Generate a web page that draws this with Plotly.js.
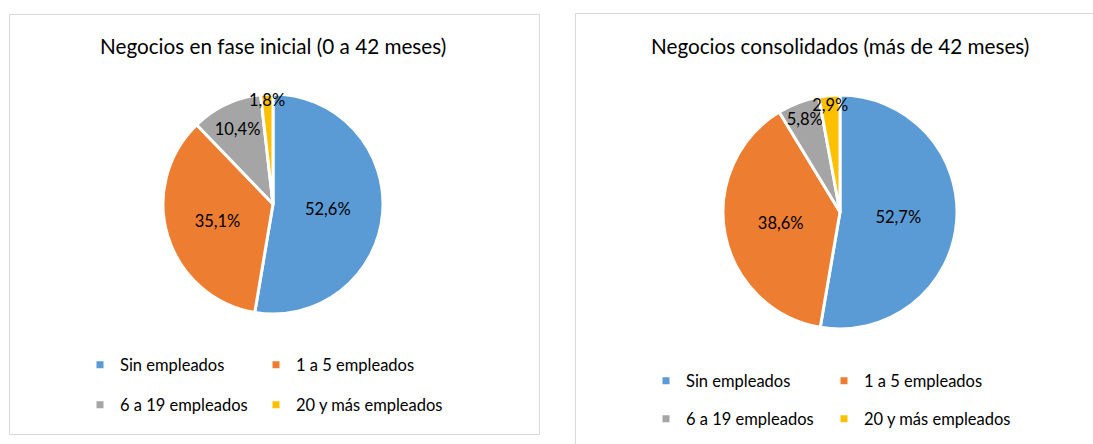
<!DOCTYPE html>
<html><head><meta charset="utf-8">
<script src="https://cdn.plot.ly/plotly-3.0.1.min.js"></script>
<style>html,body{margin:0;padding:0;background:#fff;}#chart{width:1093px;height:444px;}</style>
</head><body><div id="chart"></div>
<script>
// ---- data ----
const categories = ["Sin empleados", "1 a 5 empleados", "6 a 19 empleados", "20 y más empleados"];
const inicialValues = [52.6, 35.1, 10.4, 1.8];
const consolidadosValues = [52.7, 38.6, 5.8, 2.9];
const titles = ["Negocios en fase inicial (0 a 42 meses)", "Negocios consolidados (más de 42 meses)"];
const colors = ["#5B9BD5", "#ED7D31", "#A5A5A5", "#FFC000"];

// ---- layout helpers (pixels -> paper) ----
const W = 1093, H = 444;
const px = v => v / W;
const py = v => 1 - v / H;
const FONT = "Lato, 'Open Sans', sans-serif";

function pieTrace(values, x0, x1, y0, y1) {
  return {
    type: "pie", labels: categories, values: values, sort: false,
    direction: "clockwise", rotation: 0,
    marker: {colors: colors, line: {color: "#ffffff", width: 3}},
    texttemplate: "%{value:.1f}%", textposition: "inside",
    insidetextorientation: "horizontal",
    textfont: {family: FONT, size: 16.5, color: "#000000"},
    domain: {x: [px(x0), px(x1)], y: [py(y1), py(y0)]},
    showlegend: false, hoverinfo: "none"
  };
}

const traces = [
  pieTrace(inicialValues, 163, 383, 94, 314),
  pieTrace(consolidadosValues, 723, 957, 95, 329)
];

// legend placement per panel: text start x of the two columns, y of the two rows
const legendPos = [
  {cols: [80, 256], rows: [365, 405]},
  {cols: [646, 824], rows: [381, 419]}
];
const layoutLegends = {};
let legendCount = 0;
[0, 1].forEach(panel => {
  categories.forEach((c, i) => {
    legendCount += 1;
    const id = legendCount === 1 ? "legend" : "legend" + legendCount;
    const pos = legendPos[panel];
    layoutLegends[id] = {
      orientation: "h", x: px(pos.cols[i % 2]), y: py(pos.rows[Math.floor(i / 2)]),
      xanchor: "left", yanchor: "middle",
      bgcolor: "rgba(0,0,0,0)", borderwidth: 0,
      font: {family: FONT, size: 16.5, color: "#000000"},
      itemclick: false, itemdoubleclick: false
    };
    traces.push({
      type: "scatter", mode: "markers", x: [null], y: [null], name: c,
      marker: {symbol: "square", size: 7, color: colors[i]},
      legend: id, showlegend: true, hoverinfo: "none"
    });
  });
});

const layout = Object.assign({
  width: W, height: H, margin: {l: 0, r: 0, t: 0, b: 0},
  paper_bgcolor: "#ffffff", plot_bgcolor: "#ffffff",
  separators: ",.",
  uniformtext: {minsize: 16.5, mode: "show"},
  xaxis: {visible: false}, yaxis: {visible: false},
  shapes: [
    {type: "rect", xref: "paper", yref: "paper", x0: px(9.5), x1: px(539.5), y0: py(434.5), y1: py(14.5),
     line: {color: "#D9D9D9", width: 1}},
    {type: "rect", xref: "paper", yref: "paper", x0: px(575.5), x1: 1.05, y0: -0.05, y1: py(13.5),
     line: {color: "#D9D9D9", width: 1}}
  ],
  annotations: [
    {text: titles[0], x: px(273), y: py(46), xref: "paper", yref: "paper", showarrow: false,
     xanchor: "center", yanchor: "middle", font: {family: FONT, size: 20.7, color: "#000000"}},
    {text: titles[1], x: px(840), y: py(46), xref: "paper", yref: "paper", showarrow: false,
     xanchor: "center", yanchor: "middle", font: {family: FONT, size: 20.7, color: "#000000"}}
  ]
}, layoutLegends);

Plotly.newPlot("chart", traces, layout, {staticPlot: true, displayModeBar: false});
</script></body></html>
